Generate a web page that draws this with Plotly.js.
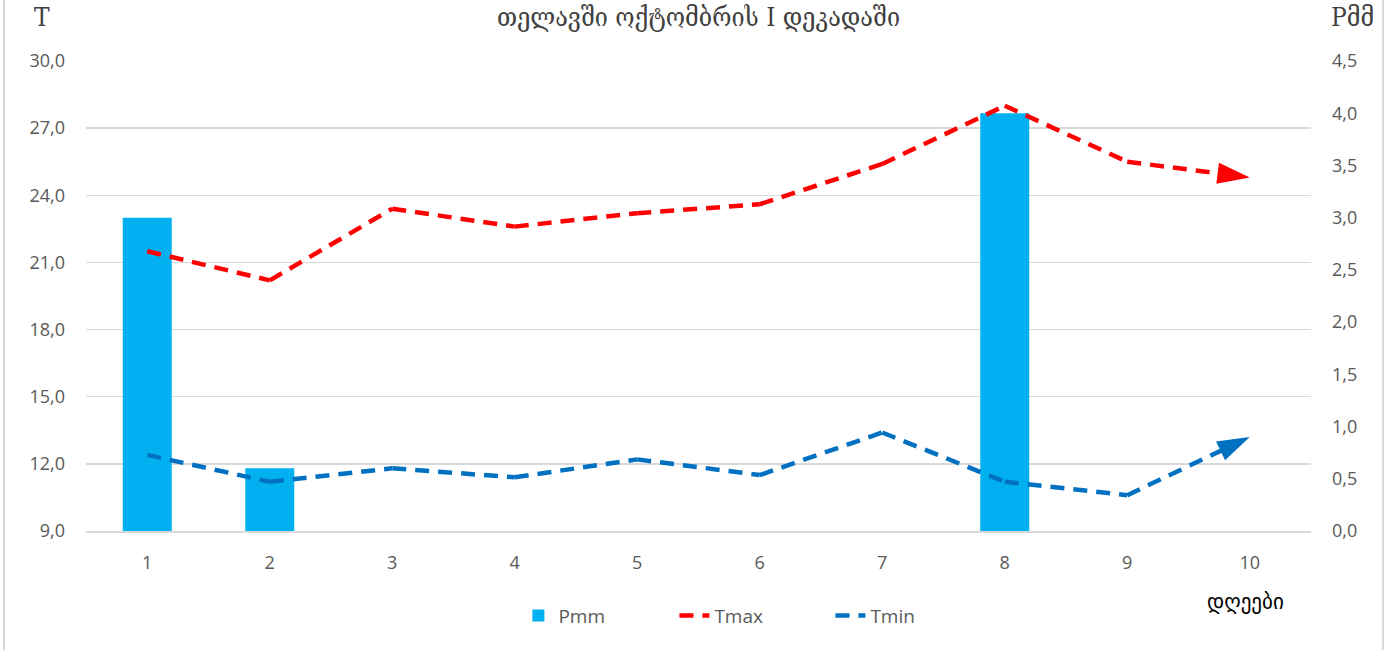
<!DOCTYPE html>
<html>
<head>
<meta charset="utf-8">
<script src="https://cdn.plot.ly/plotly-3.0.1.min.js"></script>
<style>
html,body{margin:0;padding:0;background:#fff;}
#wrap{position:relative;width:1396px;height:650px;}
#chart{width:1396px;height:650px;}
.vline{position:absolute;top:0;width:2px;height:650px;background:#d9d9d9;}
</style>
</head>
<body>
<div id="wrap">
<div id="chart"></div>
<div class="vline" style="left:3px"></div>
<div class="vline" style="left:1382px"></div>
</div>
<script>
const days = [1, 2, 3, 4, 5, 6, 7, 8, 9, 10];
const pmm  = [3.0, 0.6, null, null, null, null, null, 4.0, null, null];
const tmax = [21.5, 20.2, 23.4, 22.6, 23.2, 23.6, 25.4, 28.0, 25.5, 24.8];
const tmin = [12.4, 11.2, 11.8, 11.4, 12.2, 11.5, 13.4, 11.2, 10.6, 13.2];
const leftTicks = [9, 12, 15, 18, 21, 24, 27, 30];
const rightTicks = [0, 0.5, 1, 1.5, 2, 2.5, 3, 3.5, 4, 4.5];

const titleText = 'თელავში ოქტომბრის I დეკადაში';
const leftLabel = 'T';
const rightLabel = 'Pმმ';
const xLabel = 'დღეები';

const endSizes = n => days.map((d, i) => i === n - 1 ? 34 : 0);

const traces = [
  {type: 'bar', name: 'Pmm', x: days, y: pmm, yaxis: 'y',
   marker: {color: '#00B0F0'}},
  {type: 'scatter', mode: 'lines+markers', name: 'Tmax', x: days, y: tmax, yaxis: 'y2',
   line: {color: '#FF0000', width: 4.5, dash: '14px,9px'},
   marker: {symbol: 'arrow', angleref: 'previous', size: endSizes(days.length), color: '#FF0000', opacity: 1, line: {width: 0}}},
  {type: 'scatter', mode: 'lines+markers', name: 'Tmin', x: days, y: tmin, yaxis: 'y2',
   line: {color: '#0070C0', width: 4.5, dash: '14px,9px'},
   marker: {symbol: 'arrow', angleref: 'previous', size: endSizes(days.length), color: '#0070C0', opacity: 1, line: {width: 0}}}
];

const tickFont = {family: 'Open Sans, sans-serif', size: 18, color: '#595959'};
const geoFont = {family: 'DejaVu Serif Condensed, DejaVu Serif, serif', size: 26, color: '#404040'};

const layout = {
  width: 1396, height: 650,
  margin: {l: 86, r: 85, t: 61, b: 119},
  paper_bgcolor: '#ffffff', plot_bgcolor: '#ffffff',
  separators: ', ',
  bargap: 0.6,
  showlegend: true,
  legend: {orientation: 'h', x: 0.544, xanchor: 'center', y: -0.18, yanchor: 'middle',
           font: {family: 'Open Sans, sans-serif', size: 19, color: '#595959'},
           traceorder: 'normal', entrywidth: 111, entrywidthmode: 'pixels'},
  xaxis: {type: 'linear', range: [0.5, 10.5], tickvals: days, ticktext: days.map(String),
          tickfont: tickFont, showgrid: false, zeroline: false, showline: true,
          linecolor: '#d9d9d9', linewidth: 2, ticks: '', ticklen: 0, ticklabelstandoff: 14},
  yaxis: {range: [0, 4.5], tickvals: rightTicks, tickformat: '.1f', tickfont: tickFont,
          side: 'right', showgrid: false, zeroline: false,
          showline: false, ticks: '', ticklabelstandoff: 20},
  yaxis2: {range: [9, 30], tickvals: leftTicks, tickformat: '.1f', tickfont: tickFont,
           overlaying: 'y', side: 'left',
           showgrid: true, gridcolor: '#d9d9d9', gridwidth: 1.5, zeroline: false,
           showline: false, ticks: '', ticklabelstandoff: 20},
  annotations: [
    {text: titleText, xref: 'paper', yref: 'paper', x: 0.5, y: 1, xanchor: 'center', yanchor: 'middle',
     yshift: 44, showarrow: false, font: geoFont},
    {text: leftLabel, xref: 'paper', yref: 'paper', x: 0, y: 1, xanchor: 'center', yanchor: 'middle',
     xshift: -44, yshift: 44, showarrow: false, font: geoFont},
    {text: rightLabel, xref: 'paper', yref: 'paper', x: 1, y: 1, xanchor: 'center', yanchor: 'middle',
     xshift: 41, yshift: 44, showarrow: false, font: geoFont},
    {text: xLabel, xref: 'paper', yref: 'paper', x: 1, y: 0, xanchor: 'center', yanchor: 'middle',
     xshift: -66, yshift: -71, showarrow: false,
     font: {family: 'DejaVu Sans, sans-serif', size: 21, color: '#000000'}}
  ]
};

Plotly.newPlot('chart', traces, layout, {displayModeBar: false, staticPlot: true});
</script>
</body>
</html>
